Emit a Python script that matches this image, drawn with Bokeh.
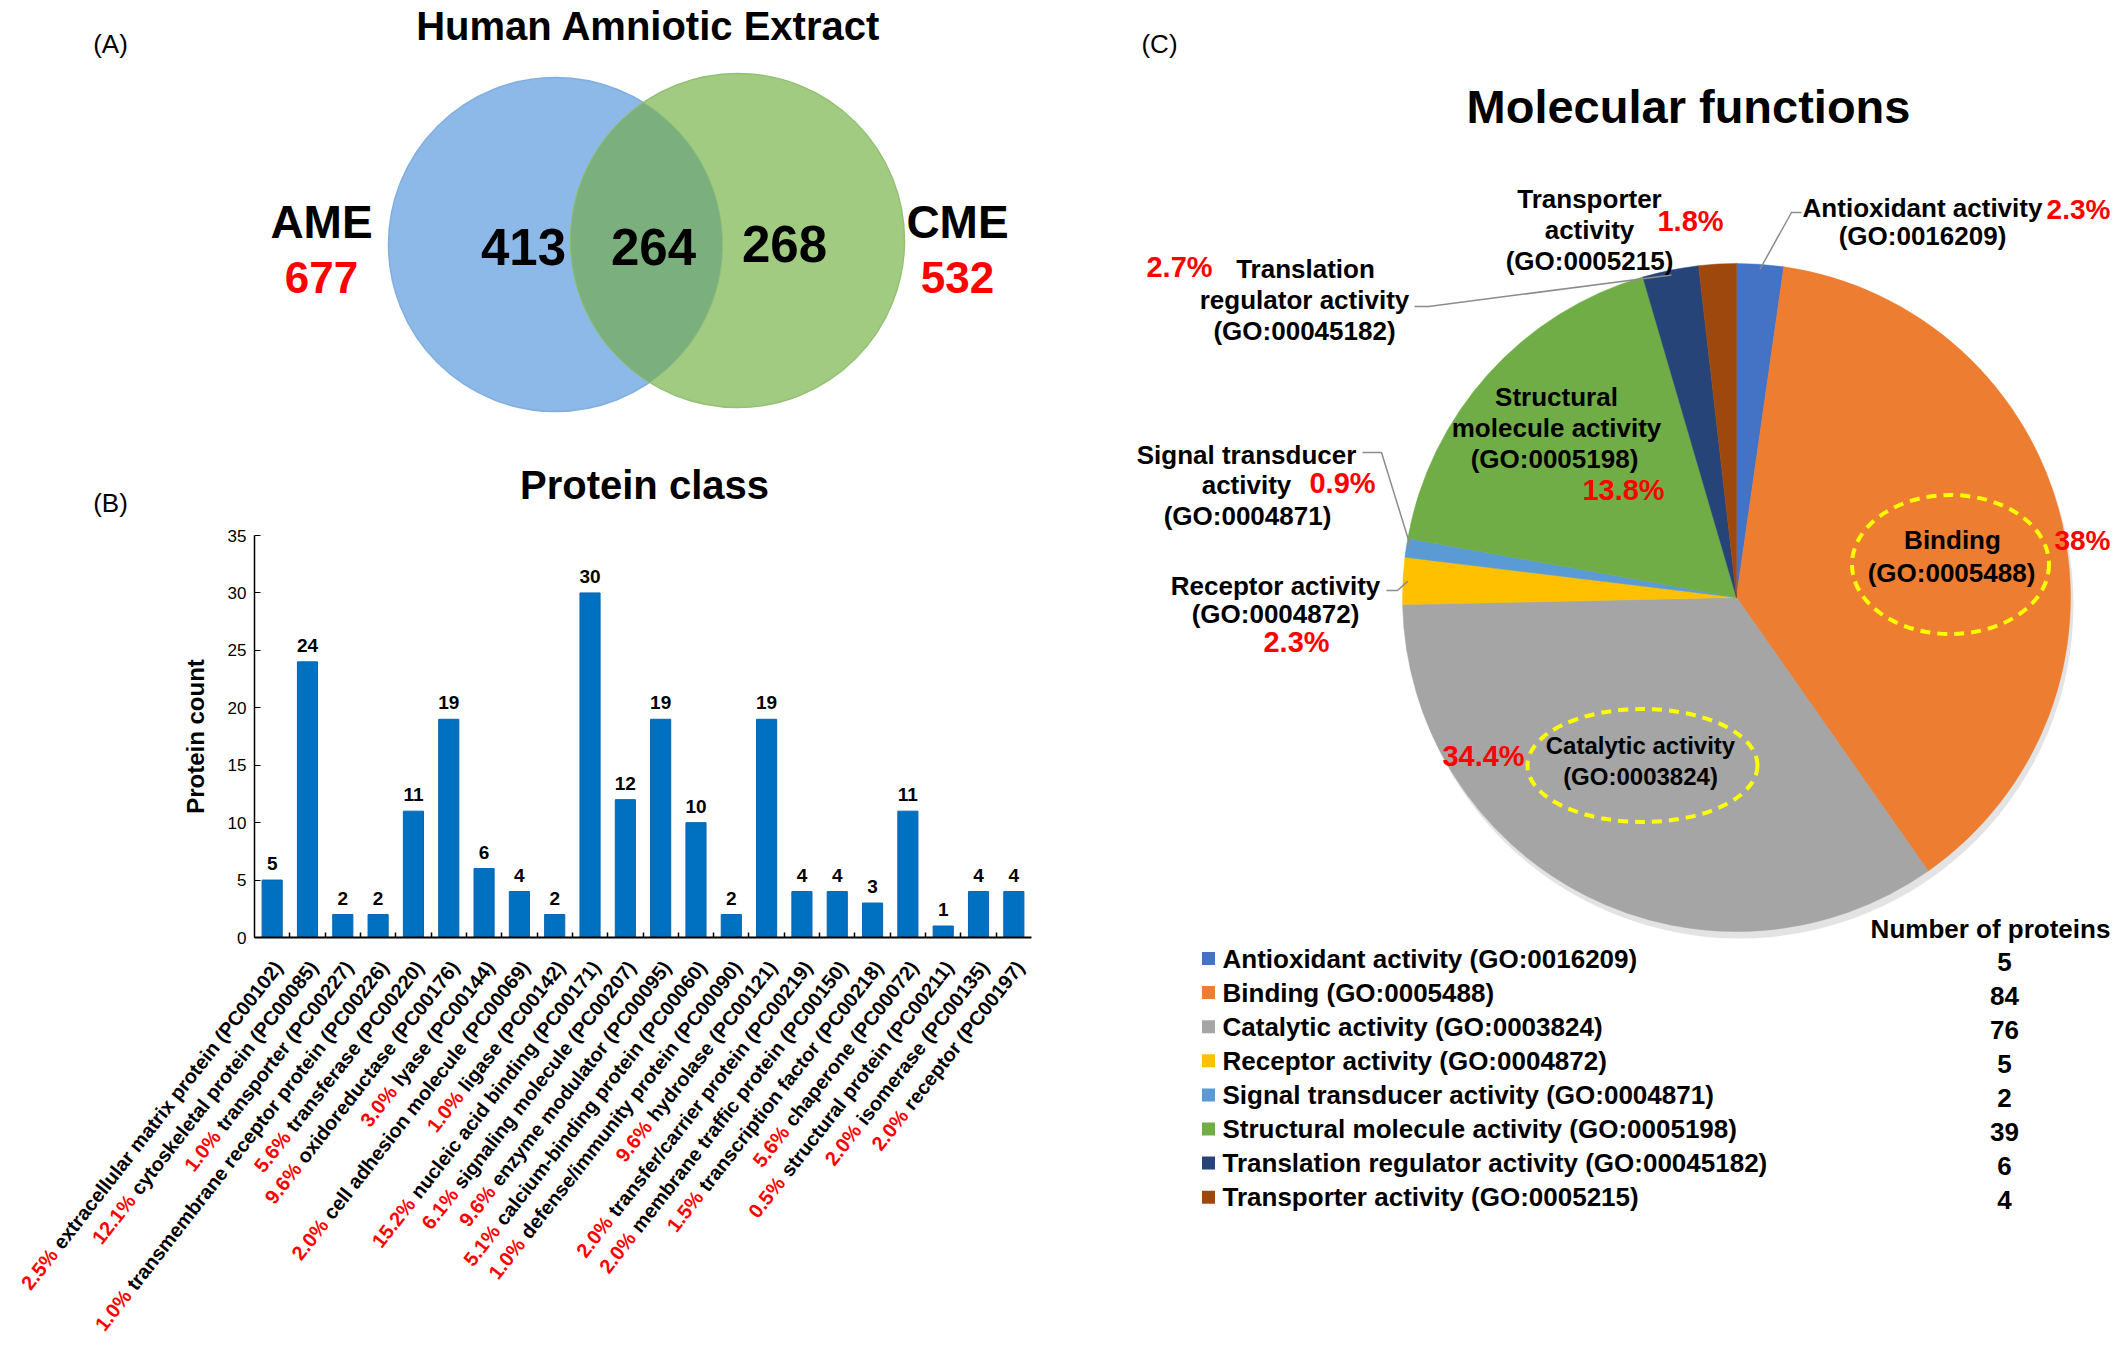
import numpy as np
from bokeh.plotting import figure
from bokeh.models import (ColumnDataSource, Range1d, LabelSet, LinearAxis, FixedTicker)
from bokeh.layouts import row, column
from bokeh.embed import file_html
from bokeh.resources import INLINE
from bokeh.core.properties import value

FONT = "Liberation Sans"
RED = "#FF0000"

# ---------------- data ----------------
venn_title = "Human Amniotic Extract"
venn_sets = ["AME", "CME"]
venn_totals = [677, 532]
venn_only = [413, 268]
venn_shared = 264

pc_title = "Protein class"
pc_names = ["extracellular matrix protein (PC00102)", "cytoskeletal protein (PC00085)",
            "transporter (PC00227)", "transmembrane receptor protein (PC00226)",
            "transferase (PC00220)", "oxidoreductase (PC00176)", "lyase (PC00144)",
            "cell adhesion molecule (PC00069)", "ligase (PC00142)",
            "nucleic acid binding (PC00171)", "signaling molecule (PC00207)",
            "enzyme modulator (PC00095)", "calcium-binding protein (PC00060)",
            "defense/immunity protein (PC00090)", "hydrolase (PC00121)",
            "transfer/carrier protein (PC00219)", "membrane traffic protein (PC00150)",
            "transcription factor (PC00218)", "chaperone (PC00072)",
            "structural protein (PC00211)", "isomerase (PC00135)", "receptor (PC00197)"]
pc_counts = [5, 24, 2, 2, 11, 19, 6, 4, 2, 30, 12, 19, 10, 2, 19, 4, 4, 3, 11, 1, 4, 4]
pc_pct = ["2.5%", "12.1%", "1.0%", "1.0%", "5.6%", "9.6%", "3.0%", "2.0%", "1.0%", "15.2%",
          "6.1%", "9.6%", "5.1%", "1.0%", "9.6%", "2.0%", "2.0%", "1.5%", "5.6%", "0.5%",
          "2.0%", "2.0%"]
pc_ticks = [0, 5, 10, 15, 20, 25, 30, 35]

mf_title = "Molecular functions"
mf_names = ["Antioxidant activity", "Binding", "Catalytic activity", "Receptor activity",
            "Signal transducer activity", "Structural molecule activity",
            "Translation regulator activity", "Transporter activity"]
mf_go = ["GO:0016209", "GO:0005488", "GO:0003824", "GO:0004872", "GO:0004871",
         "GO:0005198", "GO:00045182", "GO:0005215"]
mf_counts = [5, 84, 76, 5, 2, 39, 6, 4]
mf_pct = ["2.3%", "38%", "34.4%", "2.3%", "0.9%", "13.8%", "2.7%", "1.8%"]
mf_colors = ["#4472C4", "#ED7D31", "#A5A5A5", "#FFC000", "#5B9BD5", "#70AD47",
             "#264478", "#9E480E"]

# Arial/Liberation Sans Bold advance widths (per 1000 em)
AW = {' ': 278, '%': 889, '(': 333, ')': 333, '-': 333, '.': 278, '/': 278, ':': 333,
      'a': 556, 'b': 611, 'c': 556, 'd': 611, 'e': 556, 'f': 333, 'g': 611, 'h': 611,
      'i': 278, 'j': 278, 'k': 556, 'l': 278, 'm': 889, 'n': 611, 'o': 611, 'p': 611,
      'q': 611, 'r': 389, 's': 556, 't': 333, 'u': 611, 'v': 556, 'w': 778, 'x': 556,
      'y': 556, 'z': 500, 'C': 722, 'P': 667}
for _d in "0123456789":
    AW[_d] = 556


def text_w(s, px):
    return sum(AW.get(c, 611) for c in s) * px / 1000.0


def add_texts(fig, items, fx, fy):
    """items: (X, Y, text, size, color, style, align) in picture coords."""
    for (X, Y, s, size, color, style, align) in items:
        fig.text(x=[fx(X)], y=[fy(Y)], text=[s], text_font=value(FONT),
                 text_font_size=f"{size}px", text_font_style=style, text_color=color,
                 text_align=align, text_baseline="middle")


def blank(fig):
    fig.grid.visible = False
    fig.xgrid.visible = False
    fig.ygrid.visible = False
    fig.outline_line_color = None
    fig.background_fill_color = "white"
    fig.border_fill_color = "white"


# ---------------- (A) Venn ----------------
VW, VH = 1100, 455
vx = lambda X: X
vy = lambda Y: VH - Y
pv = figure(width=VW, height=VH, x_range=Range1d(0, VW), y_range=Range1d(0, VH),
            output_backend="svg", toolbar_location=None, min_border=0,
            x_axis_location=None, y_axis_location=None)
blank(pv)

R = 167
c_blue = (vx(555), vy(244))
c_green = (vx(737), vy(240))
pv.circle(x=[c_blue[0]], y=[c_blue[1]], radius=R, fill_color="#8DB9E8",
          line_color="#80AEE0", line_width=1.5)
pv.circle(x=[c_green[0]], y=[c_green[1]], radius=R, fill_color="#A2CB82",
          line_color="#93C174", line_width=1.5)


def lens(c1, c2, r):
    t = np.linspace(0, 2 * np.pi, 1440)
    pts = []
    for a, b in [(c1, c2), (c2, c1)]:
        x = a[0] + r * np.cos(t)
        y = a[1] + r * np.sin(t)
        m = (x - b[0]) ** 2 + (y - b[1]) ** 2 <= r * r
        pts += list(zip(x[m], y[m]))
    pts = np.array(pts)
    mx, my = pts.mean(axis=0)
    order = np.argsort(np.arctan2(pts[:, 1] - my, pts[:, 0] - mx))
    return pts[order, 0], pts[order, 1]


lx, ly = lens(c_blue, c_green, R)
pv.patch(lx, ly, fill_color="#7BB07E", line_color="#8BBE7A", line_width=1)

add_texts(pv, [
    (110, 43, "(A)", 26, "black", "normal", "center"),
    (648, 25, venn_title, 40, "black", "bold", "center"),
    (321, 221, venn_sets[0], 46, "black", "bold", "center"),
    (321, 277, str(venn_totals[0]), 44, RED, "bold", "center"),
    (957, 221, venn_sets[1], 46, "black", "bold", "center"),
    (957, 277, str(venn_totals[1]), 44, RED, "bold", "center"),
    (523, 246, str(venn_only[0]), 51, "black", "bold", "center"),
    (653, 246, str(venn_shared), 51, "black", "bold", "center"),
    (784, 243, str(venn_only[1]), 51, "black", "bold", "center"),
], vx, vy)

# ---------------- (B) Protein class bars ----------------
# picture geometry of the value axes: x=0 at 254, y=0 at 937, y=35 at 535
PXX = 777 / 22.0
PXY = 402 / 35.0
bx = lambda X: (X - 254) / PXX
by = lambda Y: (937 - Y) / PXY

ANG = np.deg2rad(52)
NAME_PX = 20
GAP = 6
X0, Y0 = 6, -26
name_w = [text_w(n, NAME_PX) for n in pc_names]
pct_xo = [X0 - (w + GAP) * np.cos(ANG) for w in name_w]
pct_yo = [Y0 - (w + GAP) * np.sin(ANG) for w in name_w]
pc_x = [i + 0.5 for i in range(len(pc_names))]

src_pc = ColumnDataSource(dict(x=pc_x, cat=pc_names, count=pc_counts,
                               count_s=[str(c) for c in pc_counts],
                               zero=[0] * len(pc_names), pct=pc_pct,
                               pxo=pct_xo, pyo=pct_yo))

pb = figure(width=1100, height=880, x_range=Range1d(bx(0), bx(1100)),
            y_range=Range1d(by(1335), by(455)), min_border=0,
            output_backend="svg", toolbar_location=None,
            x_axis_location=None, y_axis_location=None)
blank(pb)
pb.vbar(x="x", top="count", width=0.57, source=src_pc, fill_color="#0070C0",
        line_color="#0A64B0")

ya = LinearAxis(fixed_location=0, bounds=(0, 35), ticker=FixedTicker(ticks=pc_ticks))
ya.major_label_text_font = FONT
ya.major_label_text_font_size = "17px"
ya.major_label_text_color = "black"
ya.major_label_standoff = 8
ya.major_tick_in = 6
ya.major_tick_out = 0
ya.minor_tick_line_color = None
ya.axis_line_width = 1.5
ya.axis_line_color = "black"
ya.major_tick_line_color = "black"
ya.axis_label = "Protein count"
ya.axis_label_text_font = FONT
ya.axis_label_text_font_style = "bold"
ya.axis_label_text_font_size = "24px"
ya.axis_label_text_color = "black"
ya.axis_label_standoff = 16
pb.add_layout(ya, "left")

bnd = list(range(1, len(pc_names)))
xa = LinearAxis(fixed_location=0, bounds=(0, len(pc_names)),
                ticker=FixedTicker(ticks=bnd),
                major_label_overrides={b: "" for b in bnd})
xa.axis_line_width = 2
xa.axis_line_color = "black"
xa.major_tick_in = 5
xa.major_tick_out = 0
xa.major_tick_line_color = "black"
xa.major_tick_line_width = 1.5
xa.minor_tick_line_color = None
pb.add_layout(xa, "below")

pb.add_layout(LabelSet(x="x", y="count", text="count_s", source=src_pc, y_offset=10,
                       text_align="center", text_baseline="bottom",
                       text_font=value(FONT), text_font_style="bold",
                       text_font_size="19px", text_color="black"))
pb.add_layout(LabelSet(x="x", y="zero", text="cat", source=src_pc, angle=ANG,
                       x_offset=X0, y_offset=Y0, text_align="right",
                       text_baseline="middle", text_font=value(FONT),
                       text_font_style="bold", text_font_size=f"{NAME_PX}px",
                       text_color="black"))
pb.add_layout(LabelSet(x="x", y="zero", text="pct", source=src_pc, angle=ANG,
                       x_offset="pxo", y_offset="pyo", text_align="right",
                       text_baseline="middle", text_font=value(FONT),
                       text_font_style="bold", text_font_size=f"{NAME_PX}px",
                       text_color=RED))
add_texts(pb, [
    (644, 484, pc_title, 40, "black", "bold", "center"),
    (110, 502, "(B)", 26, "black", "normal", "center"),
], bx, by)

# ---------------- (C) Molecular functions pie ----------------
PW, PH = 1012, 1335
cx = lambda X: X - 1100
cy = lambda Y: PH - Y
pp = figure(width=PW, height=PH, x_range=Range1d(0, PW), y_range=Range1d(0, PH),
            output_backend="svg", toolbar_location=None, min_border=0,
            x_axis_location=None, y_axis_location=None)
blank(pp)

PCX, PCY, PR = cx(1736), cy(597), 334
counts = np.array(mf_counts, dtype=float)
frac = counts / counts.sum()
cum = np.cumsum(frac)
start = np.pi / 2 - 2 * np.pi * (cum - frac)
end = np.pi / 2 - 2 * np.pi * cum
mid = (start + end) / 2

pp.circle(x=[PCX + 3], y=[PCY - 7], radius=PR, fill_color="#D0D0D0", fill_alpha=0.6,
          line_color=None)
src_mf = ColumnDataSource(dict(start=start, end=end, color=mf_colors))
pp.wedge(x=PCX, y=PCY, radius=PR, start_angle="start", end_angle="end",
         direction="clock", fill_color="color", line_color="color", line_width=0.5,
         source=src_mf)


def slice_pt(i, k=0.985):
    return (PCX + PR * k * np.cos(mid[i]), PCY + PR * k * np.sin(mid[i]))


# leader lines: (slice index, elbow points in picture coords)
leaders = [
    (0, [(1801, 212), (1791, 212)]),
    (6, [(1414, 306), (1428, 306)]),
    (4, [(1362, 452), (1381, 452)]),
    (3, [(1386, 590), (1397, 590)]),
]
for i, pts in leaders:
    xs = [cx(X) for X, _ in pts]
    ys = [cy(Y) for _, Y in pts]
    ex, ey = slice_pt(i)
    pp.line(xs + [ex], ys + [ey], line_color="#8C8C8C", line_width=1.5)

# dashed highlight ellipses
pp.ellipse(x=[cx(1950), cx(1642)], y=[cy(564), cy(765)], width=[197, 230],
           height=[139, 113], fill_color=None, line_color="#FFFF00", line_width=4,
           line_dash="10 7")

S = 26
PS = 29
add_texts(pp, [
    (1159, 43, "(C)", 26, "black", "normal", "center"),
    (1688, 106, mf_title, 47, "black", "bold", "center"),
    # antioxidant
    (1922, 207, "Antioxidant activity", S, "black", "bold", "center"),
    (1922, 235, f"({mf_go[0]})", S, "black", "bold", "center"),
    (2078, 209, mf_pct[0], 28, RED, "bold", "center"),
    # transporter
    (1589, 198, "Transporter", S, "black", "bold", "center"),
    (1589, 229, "activity", S, "black", "bold", "center"),
    (1589, 260, f"({mf_go[7]})", S, "black", "bold", "center"),
    (1690, 220, mf_pct[7], PS, RED, "bold", "center"),
    # translation regulator
    (1305, 268, "Translation", S, "black", "bold", "center"),
    (1304, 299, "regulator activity", S, "black", "bold", "center"),
    (1304, 330, f"({mf_go[6]})", S, "black", "bold", "center"),
    (1179, 266, mf_pct[6], PS, RED, "bold", "center"),
    # structural
    (1556, 396, "Structural", S, "black", "bold", "center"),
    (1556, 427, "molecule activity", S, "black", "bold", "center"),
    (1554, 458, f"({mf_go[5]})", S, "black", "bold", "center"),
    (1623, 489, mf_pct[5], PS, RED, "bold", "center"),
    # signal transducer
    (1246, 454, "Signal transducer", S, "black", "bold", "center"),
    (1246, 484, "activity", S, "black", "bold", "center"),
    (1247, 515, f"({mf_go[4]})", S, "black", "bold", "center"),
    (1342, 482, mf_pct[4], PS, RED, "bold", "center"),
    # receptor
    (1275, 585, "Receptor activity", S, "black", "bold", "center"),
    (1275, 613, f"({mf_go[3]})", S, "black", "bold", "center"),
    (1296, 641, mf_pct[3], PS, RED, "bold", "center"),
    # binding
    (1952, 539, "Binding", S, "black", "bold", "center"),
    (1951, 572, f"({mf_go[1]})", S, "black", "bold", "center"),
    (2082, 540, mf_pct[1], 28, RED, "bold", "center"),
    # catalytic
    (1640, 745, "Catalytic activity", 24, "black", "bold", "center"),
    (1640, 776, f"({mf_go[2]})", 24, "black", "bold", "center"),
    (1483, 755, mf_pct[2], PS, RED, "bold", "center"),
], cx, cy)

# legend table
row_y = [958 + 34.1 * i for i in range(len(mf_names))]
pp.scatter(x=[cx(1208)] * len(mf_names), y=[cy(Y) for Y in row_y], marker="square",
           size=13, fill_color=mf_colors, line_color=None)
pp.text(x=[cx(1222)] * len(mf_names), y=[cy(Y) for Y in row_y],
        text=[f"{n} ({g})" for n, g in zip(mf_names, mf_go)], text_font=value(FONT),
        text_font_size="26px", text_font_style="bold", text_color="black",
        text_align="left", text_baseline="middle")
pp.text(x=[cx(2004)] * len(mf_names), y=[cy(Y + 3) for Y in row_y],
        text=[str(c) for c in mf_counts], text_font=value(FONT), text_font_size="26px",
        text_font_style="bold", text_color="black", text_align="center",
        text_baseline="middle")
add_texts(pp, [(1990, 928, "Number of proteins", 26, "black", "bold", "center")], cx, cy)

layout = row(column(pv, pb), pp)
open("out.html", "w").write(file_html(layout, INLINE, "Human Amniotic Extract"))
